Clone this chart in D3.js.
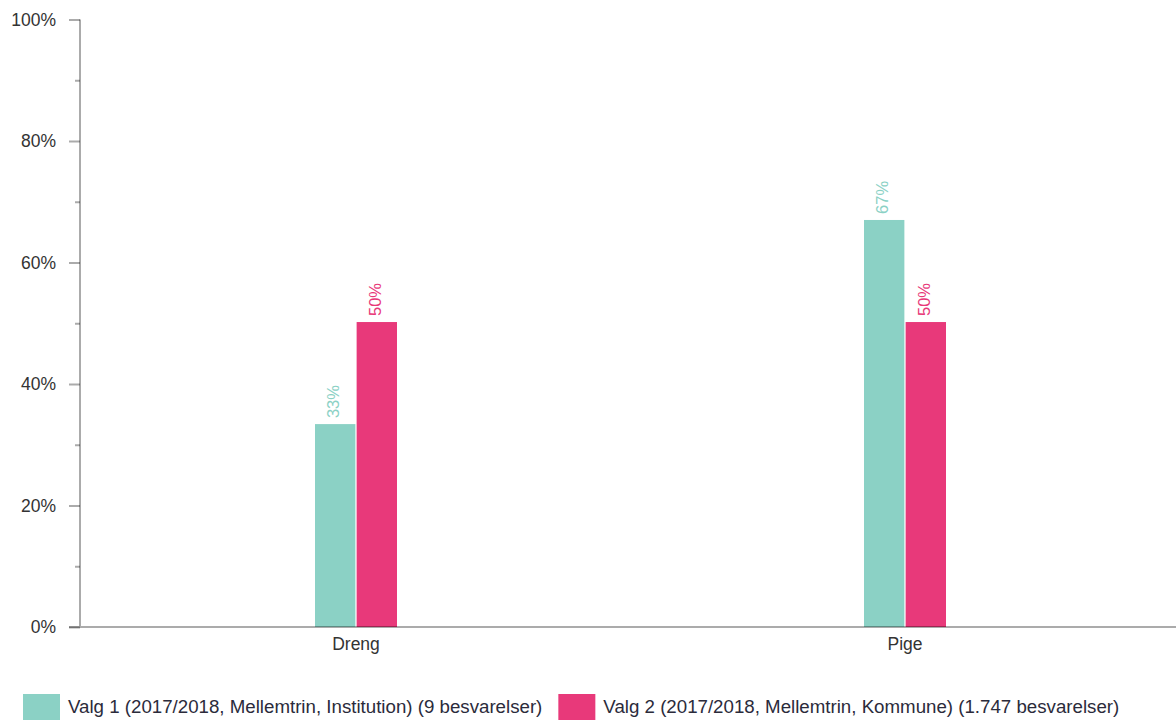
<!DOCTYPE html>
<html><head><meta charset="utf-8">
<script src="https://cdn.jsdelivr.net/npm/d3@7"></script>
<style>body{margin:0;background:#fff}svg{display:block;font-family:"Liberation Sans",Arial,sans-serif}</style>
</head><body>
<svg id="c" width="1176" height="720"></svg>
<script>
const categories = ["Dreng", "Pige"];
const seriesNames = [
  "Valg 1 (2017/2018, Mellemtrin, Institution) (9 besvarelser)",
  "Valg 2 (2017/2018, Mellemtrin, Kommune) (1.747 besvarelser)"
];
const valg1 = [0.334, 0.67];
const valg2 = [0.502, 0.502];
const valueLabels1 = ["33%", "67%"];
const valueLabels2 = ["50%", "50%"];
const colors = ["#8bd1c5", "#e8397a"];
const majorTicks = [0, 0.2, 0.4, 0.6, 0.8, 1];
const minorTicks = [0.1, 0.3, 0.5, 0.7, 0.9];

const svg = d3.select("#c");
const x0 = d3.scaleBand().domain(categories).range([81.5, 1179.5]);
const x1 = d3.scaleBand().domain([0, 1]).range([-41, 41]).paddingInner(0.03);
const y = d3.scaleLinear().domain([0, 1]).range([627, 19.5]);

const seriesVals = [valg1, valg2];
const seriesLabels = [valueLabels1, valueLabels2];

const g = svg.append("g");
categories.forEach((cat, ci) => {
  const cx = x0(cat) + x0.bandwidth() / 2;
  seriesVals.forEach((vals, si) => {
    const bx = cx + x1(si);
    g.append("rect")
      .attr("x", bx).attr("y", y(vals[ci]))
      .attr("width", x1.bandwidth()).attr("height", y(0) - y(vals[ci]))
      .attr("fill", colors[si]);
    const lx = bx + x1.bandwidth() / 2 + 4;
    const ly = y(vals[ci]) - 6;
    g.append("text")
      .attr("transform", `translate(${lx},${ly}) rotate(-90)`)
      .attr("font-size", 16.5).attr("fill", colors[si])
      .text(seriesLabels[si][ci]);
  });
});

// y axis
const axisColor = "rgba(0,0,0,0.33)";
const yAxis = svg.append("g").attr("transform", "translate(80,0)")
  .call(d3.axisLeft(y).tickValues(majorTicks).tickFormat(d3.format(".0%")).tickSize(11).tickPadding(13));
yAxis.select(".domain").remove();
yAxis.selectAll(".tick line").attr("stroke", axisColor).attr("stroke-width", 2);
yAxis.selectAll(".tick text").attr("font-size", 17.5).attr("fill", "#333").attr("font-family", "Liberation Sans, Arial, sans-serif");
const yMinor = svg.append("g").attr("transform", "translate(80,0)")
  .call(d3.axisLeft(y).tickValues(minorTicks).tickFormat("").tickSize(5));
yMinor.select(".domain").remove();
yMinor.selectAll(".tick line").attr("stroke", axisColor).attr("stroke-width", 2);
svg.append("line").attr("x1", 80).attr("x2", 80).attr("y1", y(1)).attr("y2", y(0) - 1)
  .attr("stroke", axisColor).attr("stroke-width", 2);

// x axis
const xAxis = svg.append("g").attr("transform", `translate(0,${y(0)})`)
  .call(d3.axisBottom(x0).tickSize(0).tickPadding(11));
xAxis.select(".domain").remove();
svg.append("line").attr("x1", 69).attr("x2", 1176).attr("y1", y(0)).attr("y2", y(0))
  .attr("stroke", axisColor).attr("stroke-width", 2);
xAxis.selectAll(".tick text").attr("font-size", 17.5).attr("fill", "#333").attr("font-family", "Liberation Sans, Arial, sans-serif");

// legend
const leg = svg.append("g");
let lxPos = 23;
seriesNames.forEach((name, i) => {
  leg.append("rect").attr("x", lxPos).attr("y", 694).attr("width", 37).attr("height", 37).attr("fill", colors[i]);
  const t = leg.append("text").attr("x", lxPos + 45).attr("y", 713)
    .attr("font-size", 18.7).attr("fill", "#2b2b3b").text(name);
  lxPos = lxPos + 45 + t.node().getComputedTextLength() + 16;
});
</script>
</body></html>
